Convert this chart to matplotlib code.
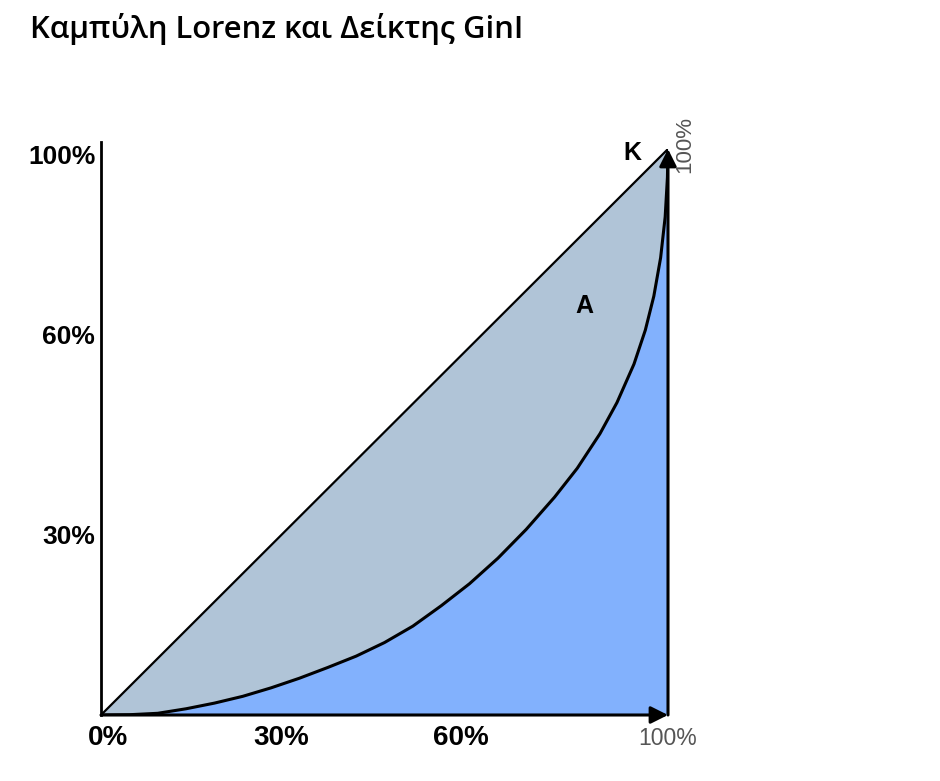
import numpy as np
import matplotlib.pyplot as plt

# Lorenz curve (share of population, share of income)
pop_share = [0.0, 0.05, 0.10, 0.15, 0.20, 0.25, 0.30, 0.35, 0.40, 0.45, 0.50,
             0.55, 0.60, 0.65, 0.70, 0.75, 0.80, 0.84, 0.88, 0.91, 0.94, 0.96,
             0.975, 0.987, 0.995, 0.999, 1.0]
income_share = [0.0, 0.0005, 0.003, 0.011, 0.021, 0.033, 0.048, 0.065, 0.084,
                0.104, 0.128, 0.157, 0.193, 0.232, 0.277, 0.328, 0.385, 0.436,
                0.497, 0.552, 0.62, 0.68, 0.74, 0.808, 0.88, 0.95, 1.0]
equality = [0.0, 1.0]

x_ticks = [0.012, 0.317, 0.634, 1.0]
x_labels = ["0%", "30%", "60%", "100%"]
y_ticks = [0.985, 0.667, 0.315]
y_labels = ["100%", "60%", "30%"]

title = "Καμπύλη Lorenz και Δείκτης GinI"

gray_fill = "#b0c4d7"
blue_fill = "#82b1fd"
label_font = "Liberation Sans"

fig = plt.figure(figsize=(9.4, 7.81), dpi=100)
fig.text(0.032, 0.963, title, fontsize=22.3, fontweight="semibold",
         family="Open Sans", ha="left", va="center")

ax = fig.add_axes([101 / 940, 66 / 781, 567 / 940, 566 / 781])
ax.set_xlim(0, 1)
ax.set_ylim(0, 1)
ax.axis("off")

x = np.array(pop_share)
y = np.array(income_share)
ax.fill_between(x, y, x, color=gray_fill, lw=0)
ax.fill_between(x, 0, y, color=blue_fill, lw=0)
ax.plot(x, y, color="black", lw=2.2, solid_joinstyle="round")
ax.plot(equality, equality, color="black", lw=1.6)

# axes drawn by hand
ax.plot([0, 0], [0, 1.012], color="black", lw=2, clip_on=False)
ax.annotate("", xy=(1.0, 0), xytext=(0, 0),
            arrowprops=dict(arrowstyle="-|>", lw=2.2, color="black",
                            mutation_scale=26, shrinkA=0, shrinkB=0),
            annotation_clip=False)
ax.annotate("", xy=(1.0, 1.0), xytext=(1.0, 0),
            arrowprops=dict(arrowstyle="-|>", lw=2.2, color="black",
                            mutation_scale=26, shrinkA=0, shrinkB=0),
            annotation_clip=False)

for xt, lab in zip(x_ticks, x_labels):
    if lab == "100%":
        ax.text(xt, -0.042, lab, ha="center", va="center", fontsize=16.5,
                family=label_font, color="#555555", clip_on=False)
    else:
        ax.text(xt, -0.041, lab, ha="center", va="center", fontsize=20,
                family=label_font, fontweight="bold", clip_on=False)
for yt, lab in zip(y_ticks, y_labels):
    ax.text(-0.01, yt, lab, ha="right", va="center", fontsize=19,
            family=label_font, fontweight="bold", clip_on=False)

ax.text(1.03, 1.008, "100%", rotation=90, ha="center", va="center",
        fontsize=16, family=label_font, color="#555555", clip_on=False)
ax.text(0.937, 0.993, "K", ha="center", va="center", fontsize=18,
        fontweight="bold", family=label_font, clip_on=False)
ax.text(0.853, 0.722, "A", ha="center", va="center", fontsize=18,
        fontweight="bold", family=label_font)

fig.savefig("out.png", dpi=100, facecolor="white")
